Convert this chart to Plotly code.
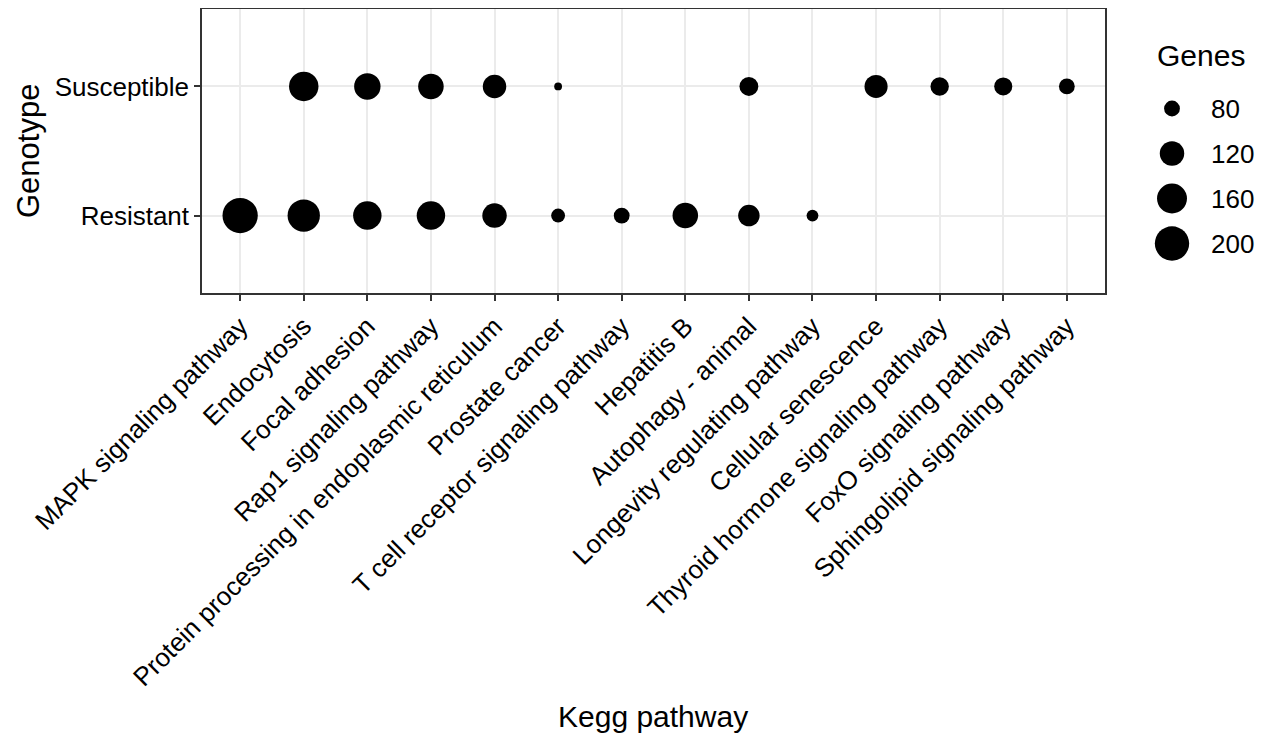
import math
import plotly.graph_objects as go

# ---- data ----
pathways = [
    "MAPK signaling pathway", "Endocytosis", "Focal adhesion",
    "Rap1 signaling pathway", "Protein processing in endoplasmic reticulum",
    "Prostate cancer", "T cell receptor signaling pathway", "Hepatitis B",
    "Autophagy - animal", "Longevity regulating pathway",
    "Cellular senescence", "Thyroid hormone signaling pathway",
    "FoxO signaling pathway", "Sphingolipid signaling pathway",
]
genotypes = ["Resistant", "Susceptible"]
resistant_genes = [210, 181, 148, 148, 120, 75, 80, 127, 103, 71,
                   None, None, None, None]
susceptible_genes = [None, 156, 133, 127, 114, 68, None, None, 91, None,
                     112, 89, 88, 80]
legend_breaks = [80, 120, 160, 200]

# ---- build points ----
xs, ys, vals = [], [], []
for g, series in zip(genotypes, [resistant_genes, susceptible_genes]):
    for p, v in zip(pathways, series):
        if v is not None:
            xs.append(p)
            ys.append(g)
            vals.append(v)

vmin, vmax = min(vals), max(vals)


def size_of(v):
    # ggplot2-like area scale: size range 1..6 (sqrt of rescaled value)
    t = (v - vmin) / (vmax - vmin)
    t = min(max(t, 0), 1)
    s = 1 + 5 * math.sqrt(t)
    return 2.3 + 5.5 * s


W, H = 1271, 736
OFF = 8  # page body margin offset
FONT = "Liberation Sans, Arial, sans-serif"


def fx(px):
    return (px - OFF) / W


def fy(py):
    return 1 - (py - OFF) / H


px_l, px_r, px_t, px_b = 202, 1105, 9, 293

fig = go.Figure()
fig.add_trace(go.Scatter(
    x=xs, y=ys, mode="markers",
    marker=dict(size=[size_of(v) for v in vals], color="black",
                opacity=1, line=dict(width=0)),
    showlegend=False, xaxis="x", yaxis="y",
    hovertext=[str(v) for v in vals],
))

# size legend drawn on a small auxiliary axis pair
leg_labels = [str(b) for b in legend_breaks]
fig.add_trace(go.Scatter(
    x=[0] * len(legend_breaks), y=leg_labels, mode="markers",
    marker=dict(size=[size_of(b) for b in legend_breaks], color="black",
                opacity=1, line=dict(width=0)),
    showlegend=False, xaxis="x2", yaxis="y2",
))

axis_common = dict(
    showgrid=True, gridcolor="#EBEBEB", gridwidth=1.5,
    showline=True, linecolor="#333333", linewidth=1.5, mirror=True,
    ticks="outside", ticklen=6, tickwidth=1.5, tickcolor="#333333",
    tickfont=dict(family=FONT, size=26, color="black"),
    zeroline=False, fixedrange=True, automargin=False,
)

fig.update_layout(
    width=W, height=H,
    margin=dict(l=0, r=0, t=0, b=0, pad=0, autoexpand=False),
    paper_bgcolor="white", plot_bgcolor="white",
    font=dict(family=FONT, color="black"),
    xaxis=dict(
        domain=[fx(px_l), fx(px_r)], anchor="y",
        type="category", categoryorder="array", categoryarray=pathways,
        range=[-0.6, len(pathways) - 1 + 0.6], tickangle=-45,
        **axis_common,
    ),
    yaxis=dict(
        domain=[fy(px_b), fy(px_t)], anchor="x",
        type="category", categoryorder="array", categoryarray=genotypes,
        range=[-0.6, len(genotypes) - 1 + 0.6],
        **axis_common,
    ),
    xaxis2=dict(
        domain=[fx(1140), fx(1210)], anchor="y2", range=[-32, 38],
        showgrid=False, zeroline=False, showline=False,
        showticklabels=False, fixedrange=True, automargin=False,
    ),
    yaxis2=dict(
        domain=[fy(266), fy(86)], anchor="x2",
        type="category", categoryorder="array", categoryarray=leg_labels,
        range=[len(legend_breaks) - 0.5, -0.5], side="right",
        showgrid=False, zeroline=False, showline=False, ticks="",
        tickfont=dict(family=FONT, size=26, color="black"),
        fixedrange=True, automargin=False,
    ),
    annotations=[
        dict(text="Genotype", textangle=-90, x=fx(28), y=fy(151),
             xref="paper", yref="paper", showarrow=False,
             xanchor="center", yanchor="middle",
             font=dict(family=FONT, size=31, color="black")),
        dict(text="Kegg pathway", x=fx((px_l + px_r) / 2), y=fy(716),
             xref="paper", yref="paper", showarrow=False,
             xanchor="center", yanchor="middle",
             font=dict(family=FONT, size=30, color="black")),
        dict(text="Genes", x=fx(1155), y=fy(55),
             xref="paper", yref="paper", showarrow=False,
             xanchor="left", yanchor="middle",
             font=dict(family=FONT, size=30, color="black")),
    ],
)

fig.write_html("out.html")
